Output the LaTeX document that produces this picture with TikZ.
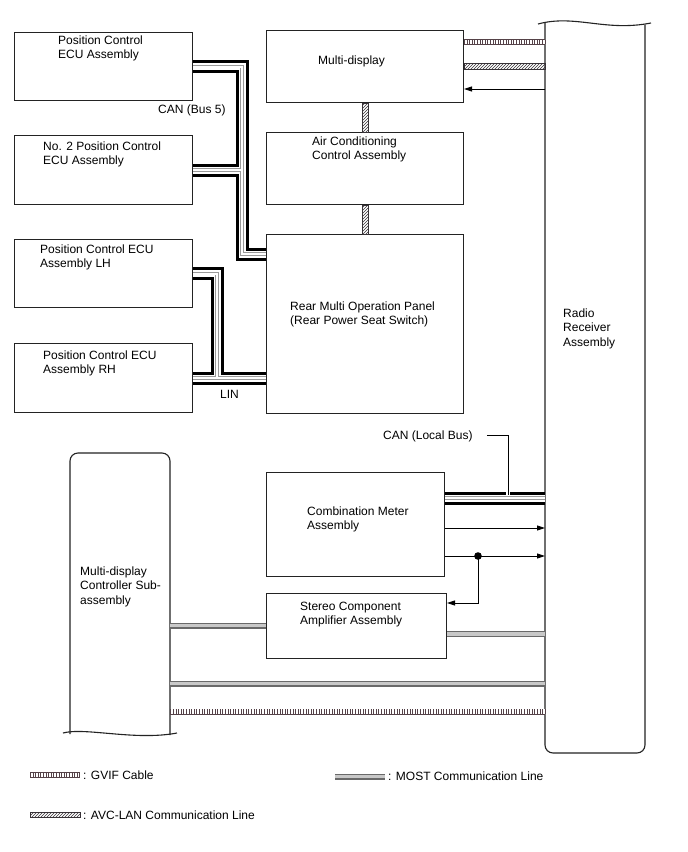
\documentclass[tikz,border=0pt]{standalone}
\usepackage{fontspec}
\setmainfont{Liberation Sans}
\usetikzlibrary{arrows.meta,patterns}
\definecolor{edge}{RGB}{35,35,35}
\definecolor{gvifc}{RGB}{85,66,72}
\definecolor{avcc}{RGB}{55,50,55}
\definecolor{mostd}{RGB}{105,105,105}
\definecolor{mostl}{RGB}{200,200,200}
\begin{document}
\begin{tikzpicture}[x=1pt,y=-1pt,
  box/.style={draw=edge, line width=1pt, rectangle, inner sep=0pt, anchor=north west},
  ghost/.style={rectangle, inner sep=0pt, anchor=north west},
  txt/.style={anchor=base west, inner sep=0pt, align=left, font=\fontsize{12}{14.5}\selectfont},
  can/.style={line width=13pt, draw=black, line join=miter,
    postaction={draw=white, line width=7pt},
    postaction={draw=black!40, line width=3.4pt},
    postaction={draw=white, line width=2pt}},
  gvif/.style={line width=6pt, draw=gvifc,
    postaction={draw=white, line width=4.4pt},
    postaction={draw=gvifc, line width=4.4pt, dash pattern=on 1pt off 1.6pt}},
  avcbox/.style={draw=avcc, line width=0.8pt, pattern=north east lines, pattern color=avcc},
  most/.style={line width=6pt, draw=mostd, postaction={draw=mostl, line width=3.8pt}},
  arr/.style={draw=black, line width=0.9pt, -{Triangle[length=8pt,width=5pt]}},
  shapeln/.style={draw=edge, line width=1.1pt}
]
\fill[white] (0,0) rectangle (688,852);
\useasboundingbox (0,0) rectangle (688,852);

% boxes
\node[box, minimum width=178pt, minimum height=68pt] (ecu1) at (14,32) {};
\node[box, minimum width=178pt, minimum height=69pt] (ecu2) at (14,135) {};
\node[box, minimum width=178pt, minimum height=68pt] (lh) at (14,239) {};
\node[box, minimum width=178pt, minimum height=69pt] (rh) at (14,343) {};
\node[box, minimum width=197pt, minimum height=72pt] (md) at (266,30) {};
\node[box, minimum width=197pt, minimum height=72pt] (ac) at (266,132) {};
\node[box, minimum width=197pt, minimum height=179pt] (rear) at (266,234) {};
\node[box, minimum width=178pt, minimum height=104pt] (cm) at (266,472) {};
\node[box, minimum width=180pt, minimum height=65pt] (sa) at (266,593) {};
\node[ghost, minimum width=100pt, minimum height=729pt] (radio) at (545,24) {};
\node[ghost, minimum width=100pt, minimum height=281pt] (ctrl) at (70,453) {};

% radio receiver outline
\draw[shapeln] (538,24) .. controls (575,14) and (605,32) .. (651,23);
\draw[shapeln, rounded corners=8pt] (545,23) -- (545,753) -- (645,753) -- (645,24.5);
% controller outline
\draw[shapeln, rounded corners=8pt] (70,734) -- (70,453) -- (170,453) -- (170,735);
\draw[shapeln] (63,733) .. controls (85,727) and (135,741) .. (177,733);

% texts (anchor = baseline of the last line)
\node[txt] (t1) at (58,58.5) {Position Control\\ECU Assembly};
\node[txt] (t2) at (43,164.5) {No. 2 Position Control\\ECU Assembly};
\node[txt] (t3) at (40,267.5) {Position Control ECU\\Assembly LH};
\node[txt] (t4) at (43,373.5) {Position Control ECU\\Assembly RH};
\node[txt] (t5) at (318,64) {Multi-display};
\node[txt] (t6) at (312,159.5) {Air Conditioning\\Control Assembly};
\node[txt] (t7) at (290,324.5) {Rear Multi Operation Panel\\(Rear Power Seat Switch)};
\node[txt] (t8) at (563,346) {Radio\\Receiver\\Assembly};
\node[txt] (t9) at (307,529.5) {Combination Meter\\Assembly};
\node[txt] (t10) at (300,624.5) {Stereo Component\\Amplifier Assembly};
\node[txt] (t11) at (80,604) {Multi-display\\Controller Sub-\\assembly};
\node[txt] (can5) at (158,113) {CAN (Bus 5)};
\node[txt] (lin) at (220,398) {LIN};
\node[txt] (canlb) at (383,439) {CAN (Local Bus)};

% CAN bus 5
\coordinate (canv) at (242,254);
\draw[can] (ecu1.east) -| (canv) -- (rear.west |- canv)
           (ecu2.east) -- (ecu2.east -| canv);
% LIN
\coordinate (linv) at (rh.east -| 217,0);
\draw[can] (lh.east) -| (linv) -- (rear.west |- linv)
           (rh.east) -- (rh.east -| linv);

% multi-display <-> radio
\draw[gvif] (md.east |- 0,42) -- (radio.west |- 0,42);
\draw[avcbox] (md.east |- 0,63) rectangle (radio.west |- 0,69);
\draw[arr] (radio.west |- 0,89) -- (md.east |- 0,89);
% vertical AVC-LAN
\draw[avcbox] ([xshift=-3pt]md.south) rectangle ([xshift=3pt]ac.north);
\draw[avcbox] ([xshift=-3pt]ac.south) rectangle ([xshift=3pt]rear.north);

% CAN local bus
\draw[can] (cm.east |- 0,498) -- (radio.west |- 0,498);
\coordinate (lbend) at (508,495);
\draw[line width=0.9pt, preaction={draw=white, line width=3.5pt}] ([xshift=14pt]canlb.east) -| (lbend);

% combination meter arrows
\draw[arr] (cm.east |- 0,528) -- (radio.west |- 0,528);
\draw[arr] (cm.east |- 0,556) -- (radio.west |- 0,556);
\coordinate (dot) at (478,556);
\fill (dot) circle (3.8pt);
\draw[arr] (dot) |- (sa.east |- 0,603);

% MOST lines
\draw[most] (ctrl.east |- 0,625.5) -- (sa.west |- 0,625.5);
\draw[most] (sa.east |- 0,634) -- (radio.west |- 0,634);
\draw[most] (ctrl.east |- 0,683.5) -- (radio.west |- 0,683.5);
% GVIF controller - radio
\draw[gvif] (ctrl.east |- 0,711.5) -- (radio.west |- 0,711.5);

% legend
\draw[gvif] (30,775) -- (80,775);
\node[txt] (lg1) at (83,779) {: GVIF Cable};
\draw[avcbox] (30,812) rectangle (80,817);
\node[txt] (lg2) at (83,819) {: AVC-LAN Communication Line};
\draw[most] (335,776.5) -- (385,776.5);
\node[txt] (lg3) at (388,780) {: MOST Communication Line};
\end{tikzpicture}
\end{document}
